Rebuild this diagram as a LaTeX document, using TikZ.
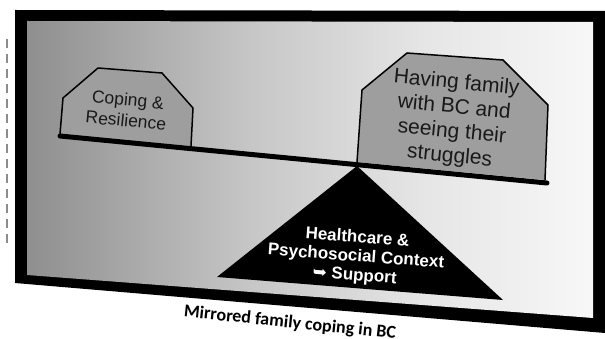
\documentclass[tikz,border=0pt]{standalone}
\usepackage{fontspec}
\setmainfont{Liberation Sans}
\newfontfamily\captionfont{Carlito}
\newfontfamily\arrowfont{DejaVu Sans}
\usetikzlibrary{positioning}

\pgfdeclarehorizontalshading{backdrop}{100bp}{color(0bp)=(black!44); color(25bp)=(black!44); color(45bp)=(black!22); color(60bp)=(black!10); color(75bp)=(black!3); color(100bp)=(black!3)}

\begin{document}
\begin{tikzpicture}[
    x=1pt, y=-1pt,
    weight/.style={draw=black, line width=1.5pt, fill=black!38, line join=round},
    label/.style={align=center, text=black!90, rotate=-5.5},
    pivottext/.style={align=center, text=white, font=\bfseries\fontsize{17}{19}\selectfont, rotate=-4.3}
]
    \useasboundingbox (0,0) rectangle (605,339);

    % Frame
    \fill[black] (15,10) -- (605,11) -- (605,333) -- (15,283) -- cycle;
    \shade[shading=backdrop] (27,21) -- (593,22) -- (593,318) -- (27,275) -- cycle;

    % Dashed edge (left)
    \coordinate (dtop) at (7,39);
    \coordinate (dbot) at (7,247);
    \draw[black!45, line width=2.2pt, dash pattern=on 9pt off 6pt] (dtop) -- (dbot);

    % Weights
    \draw[weight] (60,134) -- (63,98) -- (98,68) -- (162,73) -- (193,108) -- (191,146);
    \draw[weight] (357,162) -- (362,90) -- (407,53) -- (503,60) -- (548,105) -- (545,180);

    % Beam
    \coordinate (beamL) at (60,136);
    \coordinate (beamR) at (547,183);
    \draw[black, line width=5pt, line cap=round] (beamL) -- (beamR);

    % Pivot
    \coordinate (apex) at (357,166);
    \fill[black] (apex) -- (503,300) -- (217,277) -- cycle;

    % Texts
    \node (coping) [label, font=\fontsize{17.5}{21}\selectfont] at (127,110) {Coping \&\\Resilience};
    \node (family) [label, font=\fontsize{21}{24.5}\selectfont] at (453,120) {Having family\\with BC and\\seeing their\\struggles};
    \node (support) [pivottext] at (356,257) {Healthcare \&\\Psychosocial Context\\{\arrowfont\bfseries ➥} Support};
    \node (caption) [rotate=-6, inner sep=1pt, font=\captionfont\bfseries\fontsize{18}{20}\selectfont] at (290,323) {Mirrored family coping in BC};

\end{tikzpicture}
\end{document}
